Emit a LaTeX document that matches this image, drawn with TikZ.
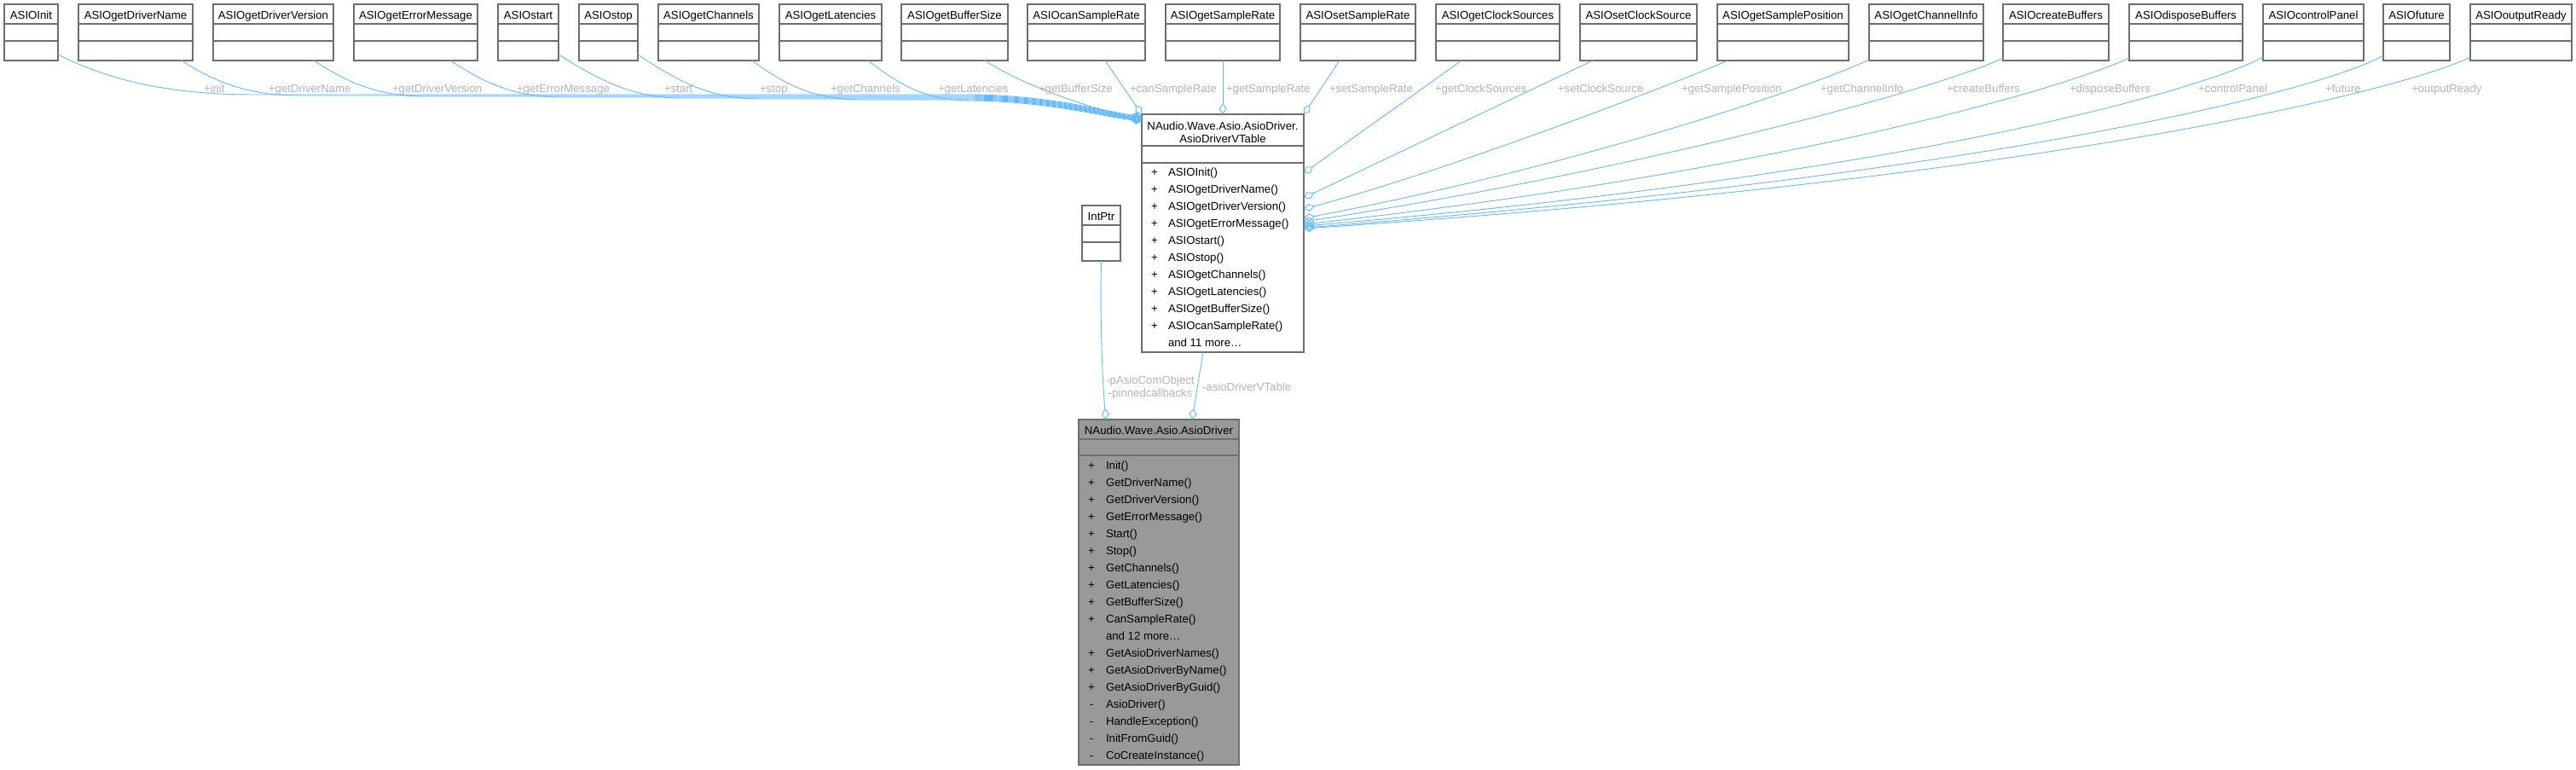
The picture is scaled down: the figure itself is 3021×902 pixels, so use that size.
\documentclass[tikz,border=0pt]{standalone}
\usepackage{fontspec}
\setmainfont{Liberation Sans}
\usetikzlibrary{arrows.meta,calc}
\definecolor{edgeblue}{HTML}{63B8FF}
\definecolor{boxborder}{HTML}{6E6E6E}
\definecolor{lblgray}{HTML}{B4B4B4}
\definecolor{mainfill}{HTML}{999999}
\newcommand{\fs}{\fontsize{13.2}{15}\selectfont}
\newcommand{\topcls}[4]{%
  \node[clsbox, anchor=north west, minimum width={#3-#2}, minimum height=66] (#1) at (#2,5) {};
  \node[txt, anchor=base] (#1-t) at ($(#1.north)+(0,17.5)$) {#4};
  \draw[boxline] ($(#1.north west)+(0,23)$) -- ($(#1.north east)+(0,23)$);
  \draw[boxline] ($(#1.north west)+(0,43)$) -- ($(#1.north east)+(0,43)$);
}
\begin{document}
\begin{tikzpicture}[x=1pt,y=-1pt,
  clsbox/.style={draw=boxborder, line width=1.2pt, fill=white, inner sep=0pt, outer sep=0pt, rectangle},
  boxline/.style={draw=boxborder, line width=1.2pt},
  txt/.style={font=\fs, inner sep=0pt, outer sep=0pt, text=black},
  lbl/.style={font=\fs, inner sep=0pt, outer sep=0pt, text=lblgray, anchor=base west},
  edge/.style={draw=edgeblue, line width=0.9pt, -{Diamond[open, length=13pt, width=9pt]}},
]
\useasboundingbox (0,0) rectangle (3021,902);

% ---------- top classes ----------
\topcls{init}{5}{68}{ASIOInit}
\topcls{gdn}{92}{226}{ASIOgetDriverName}
\topcls{gdv}{250}{391}{ASIOgetDriverVersion}
\topcls{gem}{415}{560}{ASIOgetErrorMessage}
\topcls{astart}{584}{655}{ASIOstart}
\topcls{astop}{679}{748}{ASIOstop}
\topcls{gch}{772}{890}{ASIOgetChannels}
\topcls{glat}{914}{1034}{ASIOgetLatencies}
\topcls{gbs}{1057}{1182}{ASIOgetBufferSize}
\topcls{csr}{1205}{1343}{ASIOcanSampleRate}
\topcls{gsr}{1367}{1501}{ASIOgetSampleRate}
\topcls{ssr}{1525}{1660}{ASIOsetSampleRate}
\topcls{gcs}{1684}{1829}{ASIOgetClockSources}
\topcls{scs}{1853}{1990}{ASIOsetClockSource}
\topcls{gsp}{2014}{2168}{ASIOgetSamplePosition}
\topcls{gci}{2192}{2326}{ASIOgetChannelInfo}
\topcls{cbuf}{2349}{2473}{ASIOcreateBuffers}
\topcls{dbuf}{2497}{2630}{ASIOdisposeBuffers}
\topcls{cpan}{2654}{2772}{ASIOcontrolPanel}
\topcls{fut}{2795}{2873}{ASIOfuture}
\topcls{ordy}{2897}{3016}{ASIOoutputReady}

% ---------- VTable ----------
\node[clsbox, anchor=north west, minimum width=190, minimum height=279] (vt) at (1339,134) {};
\draw[boxline] ($(vt.north west)+(0,37)$) -- ($(vt.north east)+(0,37)$);
\draw[boxline] ($(vt.north west)+(0,57)$) -- ($(vt.north east)+(0,57)$);
\node[txt, anchor=base] (vt-t1) at (1434,152) {NAudio.Wave.Asio.AsioDriver.};
\node[txt, anchor=base] (vt-t2) at (1434,167) {AsioDriverVTable};
\foreach \m [count=\i from 0] in {ASIOInit(),ASIOgetDriverName(),ASIOgetDriverVersion(),ASIOgetErrorMessage(),ASIOstart(),ASIOstop(),ASIOgetChannels(),ASIOgetLatencies(),ASIOgetBufferSize(),ASIOcanSampleRate()}{
  \node[txt, anchor=base] (vt-s\i) at (1354,206.5+20*\i) {+};
  \node[txt, anchor=base west] (vt-m\i) at (1370,206.5+20*\i) {\m};
}
\node[txt, anchor=base west] (vt-more) at (1370,406.5) {and 11 more\ldots};

% ---------- IntPtr ----------
\node[clsbox, anchor=north west, minimum width=45, minimum height=65] (ip) at (1269,241) {};
\draw[boxline] ($(ip.north west)+(0,23)$) -- ($(ip.north east)+(0,23)$);
\draw[boxline] ($(ip.north west)+(0,43)$) -- ($(ip.north east)+(0,43)$);
\node[txt, anchor=base] (ip-t) at ($(ip.north)+(0,17.5)$) {IntPtr};

% ---------- AsioDriver ----------
\node[clsbox, fill=mainfill, anchor=north west, minimum width=188, minimum height=405] (ad) at (1265,492) {};
\draw[boxline] ($(ad.north west)+(0,23)$) -- ($(ad.north east)+(0,23)$);
\draw[boxline] ($(ad.north west)+(0,42)$) -- ($(ad.north east)+(0,42)$);
\node[txt, anchor=base] (ad-t) at (1359,509) {NAudio.Wave.Asio.AsioDriver};
\foreach \s/\m [count=\i from 0] in {+/Init(),+/GetDriverName(),+/GetDriverVersion(),+/GetErrorMessage(),+/Start(),+/Stop(),+/GetChannels(),+/GetLatencies(),+/GetBufferSize(),+/CanSampleRate()}{
  \node[txt, anchor=base] (ad-s\i) at (1280,550+20*\i) {\s};
  \node[txt, anchor=base west] (ad-m\i) at (1297,550+20*\i) {\m};
}
\node[txt, anchor=base west] (ad-more) at (1297,750) {and 12 more\ldots};
\foreach \s/\m [count=\i from 11] in {+/GetAsioDriverNames(),+/GetAsioDriverByName(),+/GetAsioDriverByGuid(),-/AsioDriver(),-/HandleException(),-/InitFromGuid(),-/CoCreateInstance()}{
  \node[txt, anchor=base] (ad-s\i) at (1280,550+20*\i) {\s};
  \node[txt, anchor=base west] (ad-m\i) at (1297,550+20*\i) {\m};
}

% ---------- edges into VTable (left bundle) ----------
\draw[edge] ($(init.south east)+(0,-7)$) .. controls (130,95) and (200,111) .. (300,111) -- (1140,111) .. controls (1230,112) and (1295,130) .. ($(vt.north west)+(0,3)$);
\draw[edge] ($(gdn.south west)+(121,0)$) .. controls (250,95) and (290,112) .. (350,112) -- (1140,112) .. controls (1230,113) and (1295,131) .. ($(vt.north west)+(0,4)$);
\draw[edge] ($(gdv.south west)+(118,0)$) .. controls (405,95) and (440,113) .. (500,113) -- (1140,113) .. controls (1230,114) and (1295,132) .. ($(vt.north west)+(0,5)$);
\draw[edge] ($(gem.south west)+(113,0)$) .. controls (565,95) and (600,114) .. (660,114) -- (1140,114) .. controls (1230,115) and (1295,133) .. ($(vt.north west)+(0,6)$);
\draw[edge] ($(astart.south east)+(0,-7)$) .. controls (700,92) and (740,115) .. (800,115) -- (1140,115) .. controls (1230,116) and (1295,134) .. ($(vt.north west)+(0,6)$);
\draw[edge] ($(astop.south east)+(0,-7)$) .. controls (790,92) and (830,116) .. (890,116) -- (1140,116) .. controls (1230,117) and (1295,135) .. ($(vt.north west)+(0,7)$);
\draw[edge] ($(gch.south west)+(110,0)$) .. controls (915,95) and (950,117) .. (1010,117) -- (1140,117) .. controls (1230,118) and (1295,136) .. ($(vt.north west)+(0,7)$);
\draw[edge] ($(glat.south west)+(104,0)$) .. controls (1050,95) and (1080,118) .. (1140,118) .. controls (1230,119) and (1295,137) .. ($(vt.north west)+(0,8)$);
\draw[edge] ($(gbs.south west)+(98,0)$) .. controls (1200,100) and (1265,122) .. ($(vt.north west)+(0,8)$);
\draw[edge] ($(csr.south west)+(91,0)$) -- (vt.north west);
\draw[edge] (gsr.south) -- (vt.north);
\draw[edge] ($(ssr.south west)+(46,0)$) -- (vt.north east);

% ---------- edges into VTable (right bundle) ----------
\draw[edge] ($(gcs.south west)+(30,0)$) -- ($(vt.north east)+(0,69)$);
\draw[edge] ($(scs.south west)+(15,0)$) -- ($(vt.north east)+(0,98)$);
\draw[edge] ($(gsp.south west)+(12,0)$) .. controls (1990,88) and (1700,200) .. ($(vt.north east)+(0,111)$);
\draw[edge] ($(gci.south west)+(0,-1)$) .. controls (2130,100) and (1850,195) .. ($(vt.north east)+(0,122)$);
\draw[edge] ($(cbuf.south west)+(0,-3)$) .. controls (2290,98) and (1950,195) .. ($(vt.north east)+(0,126)$);
\draw[edge] ($(dbuf.south west)+(0,-3)$) .. controls (2430,100) and (2100,200) .. ($(vt.north east)+(0,129)$);
\draw[edge] ($(cpan.south west)+(0,-4)$) .. controls (2590,102) and (2250,205) .. ($(vt.north east)+(0,131)$);
\draw[edge] ($(fut.south west)+(0,-6)$) .. controls (2730,103) and (2350,205) .. ($(vt.north east)+(0,133)$);
\draw[edge] ($(ordy.south west)+(0,-4)$) .. controls (2820,105) and (2405,210) .. ($(vt.north east)+(0,134)$);

% ---------- edges into AsioDriver ----------
\draw[edge] (ip.south) .. controls (1290,380) and (1293,450) .. ($(ad.north west)+(32,0)$);
\draw[edge] ($(vt.south west)+(72,0)$) -- ($(ad.north west)+(133,0)$);

% ---------- edge labels ----------
\node[lbl] (l1) at (239,108) {+init};
\node[lbl] (l2) at (315,108) {+getDriverName};
\node[lbl] (l3) at (460,108) {+getDriverVersion};
\node[lbl] (l4) at (606,108) {+getErrorMessage};
\node[lbl] (l5) at (779,108) {+start};
\node[lbl] (l6) at (891,108) {+stop};
\node[lbl] (l7) at (974,108) {+getChannels};
\node[lbl] (l8) at (1100,108) {+getLatencies};
\node[lbl] (l9) at (1218,108) {+getBufferSize};
\node[lbl] (l10) at (1325,108) {+canSampleRate};
\node[lbl] (l11) at (1438,108) {+getSampleRate};
\node[lbl] (l12) at (1559,108) {+setSampleRate};
\node[lbl] (l13) at (1683,108) {+getClockSources};
\node[lbl] (l14) at (1827,108) {+setClockSource};
\node[lbl] (l15) at (1972,108) {+getSamplePosition};
\node[lbl] (l16) at (2135,108) {+getChannelInfo};
\node[lbl] (l17) at (2283,108) {+createBuffers};
\node[lbl] (l18) at (2427,108) {+disposeBuffers};
\node[lbl] (l19) at (2578,108) {+controlPanel};
\node[lbl] (l20) at (2727,108) {+future};
\node[lbl] (l21) at (2828,108) {+outputReady};
\node[lbl, anchor=base] (l22) at (1349,450) {-pAsioComObject};
\node[lbl, anchor=base] (l23) at (1349,465) {-pinnedcallbacks};
\node[lbl] (l24) at (1410,458) {-asioDriverVTable};
\end{tikzpicture}
\end{document}
